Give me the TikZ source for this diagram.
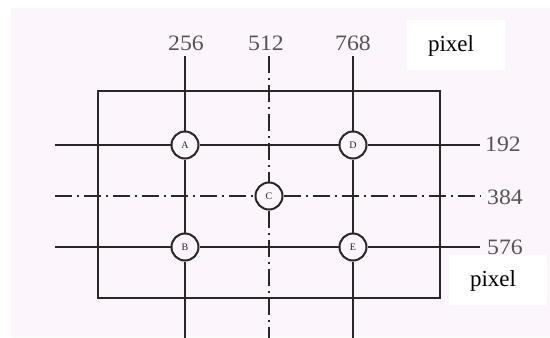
\documentclass[tikz,border=0pt]{standalone}
\usepackage{fontspec}
\setmainfont{Liberation Serif}
\definecolor{bgpink}{RGB}{252,245,252}
\definecolor{ink}{RGB}{40,40,40}
\definecolor{lbl}{RGB}{85,85,85}
\begin{document}
\begin{tikzpicture}[x=1pt,y=-1pt,
  solidln/.style={draw=ink,line width=2.2pt},
  dashdotln/.style={draw=ink,line width=2.2pt,dash pattern=on 17pt off 5pt on 2pt off 5pt},
  ptnode/.style={circle,draw=ink,line width=2pt,fill=bgpink,minimum size=27pt,inner sep=0pt,
    font=\fontsize{10}{10}\selectfont,text=ink},
  num/.style={font=\fontsize{22}{22}\selectfont,text=lbl,inner sep=0pt,xscale=1.08},
  pixtxt/.style={font=\fontsize{23}{23}\selectfont,text=black,inner sep=0pt}]
\useasboundingbox (0,0) rectangle (550,338);
\fill[white] (0,0) rectangle (550,338);
\fill[bgpink] (11,8) rectangle (550,337);
% frame
\draw[ink,line width=2pt] (98,91) rectangle (440,298);
% points
\node[ptnode] (A) at (185,145) {A};
\node[ptnode] (D) at (353,145) {D};
\node[ptnode] (C) at (269,196) {C};
\node[ptnode] (B) at (185,247) {B};
\node[ptnode] (E) at (353,247) {E};
% line ends
\coordinate (v1t) at (185,56); \coordinate (v1b) at (185,338);
\coordinate (v2t) at (269,56); \coordinate (v2b) at (269,338);
\coordinate (v3t) at (353,56); \coordinate (v3b) at (353,338);
\coordinate (h1l) at (55,145); \coordinate (h1r) at (480,145);
\coordinate (h2l) at (55,196); \coordinate (h2r) at (480,196);
\coordinate (h3l) at (55,247); \coordinate (h3r) at (480,247);
% lines
\draw[solidln] (v1t) -- (A) -- (B) -- (v1b);
\draw[solidln] (v3t) -- (D) -- (E) -- (v3b);
\draw[solidln] (h1l) -- (A) -- (D) -- (h1r);
\draw[solidln] (h3l) -- (B) -- (E) -- (h3r);
\draw[dashdotln] (v2t) -- (C) -- (v2b);
\draw[dashdotln] (h2l) -- (C) -- (h2r);
% labels
\node[num] (n256) at (186,43) {256};
\node[num] (n512) at (266,43) {512};
\node[num] (n768) at (353,43) {768};
\node[num] (n192) at (503,144) {192};
\node[num] (n384) at (505,197) {384};
\node[num] (n576) at (505,247) {576};
% pixel boxes
\fill[white] (407,20) rectangle (505,70);
\node[pixtxt] (px1) at (451,46) {pixel};
\fill[white] (449,255) rectangle (547,305);
\node[pixtxt] (px2) at (493,281) {pixel};
\end{tikzpicture}
\end{document}
